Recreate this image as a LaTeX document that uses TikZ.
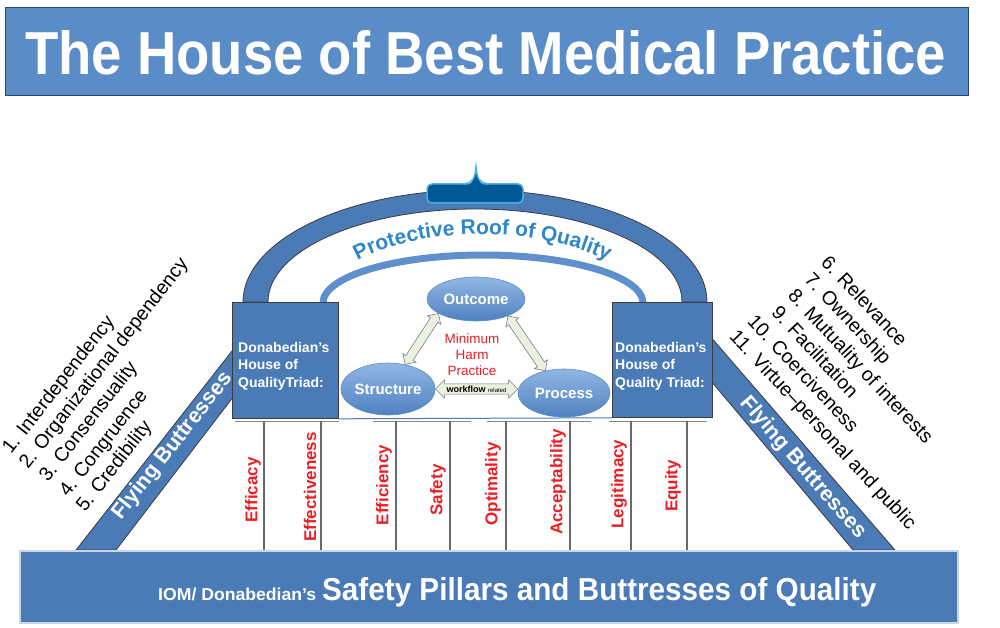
\documentclass[tikz,border=0pt]{standalone}
\usepackage{fontspec}
\setmainfont{Liberation Sans}
\usetikzlibrary{shapes.geometric,shapes.arrows,decorations.text,calc}
\definecolor{titleblue}{RGB}{90,140,200}
\definecolor{titleedge}{RGB}{40,70,110}
\definecolor{mainblue}{RGB}{74,123,183}
\definecolor{edgegray}{RGB}{60,60,60}
\definecolor{capblue}{RGB}{0,88,150}
\definecolor{caprim}{RGB}{75,175,230}
\definecolor{thinarch}{RGB}{95,143,205}
\definecolor{rooftext}{RGB}{45,135,200}
\definecolor{pillarred}{RGB}{235,30,35}
\definecolor{pillargray}{RGB}{105,105,105}
\definecolor{baseedge}{RGB}{200,213,230}
\definecolor{elltop}{RGB}{145,182,228}
\definecolor{ellbot}{RGB}{80,130,192}
\definecolor{elledge}{RGB}{95,140,195}
\definecolor{arrowfill}{RGB}{235,241,222}
\definecolor{arrowedge}{RGB}{115,125,135}
\begin{document}
\begin{tikzpicture}[x=1pt,y=-1pt,
  blockbox/.style={fill=mainblue,draw=edgegray,line width=0.8pt},
  blocktext/.style={anchor=base west,inner sep=0,text=white,align=left,font=\fontsize{14}{17.5}\selectfont\bfseries},
  triad/.style={ellipse,inner sep=0,top color=elltop,bottom color=ellbot,draw=elledge,line width=0.6pt,text=white,font=\fontsize{15}{15}\selectfont\bfseries},
  dblarrow/.style={double arrow,fill=arrowfill,draw=arrowedge,line width=0.6pt,inner xsep=0pt,double arrow head indent=0pt},
  pillar/.style={draw=pillargray,line width=1.5pt},
  capline/.style={draw=pillargray!80,line width=1pt},
  pillarlabel/.style={rotate=90,text=pillarred,inner sep=0,font=\fontsize{17}{17}\selectfont\bfseries},
  leftitem/.style={rotate=52,anchor=base west,inner sep=0,font=\fontsize{19.5}{19.5}\selectfont},
  rightitem/.style={rotate=-47,anchor=base west,inner sep=0,font=\fontsize{19.5}{19.5}\selectfont},
  flylabel/.style={text=white,inner sep=0,font=\fontsize{21.5}{21.5}\selectfont\bfseries},
]
\useasboundingbox (0,0) rectangle (1000,628);

% title
\node[draw=titleedge,fill=titleblue,line width=0.8pt,minimum width=963pt,minimum height=88pt,anchor=north west,inner sep=0] (titlebox) at (5,7) {};
\node[anchor=base west,inner sep=0,text=white] (title) at (25,75) {\resizebox{921pt}{44pt}{\bfseries The House of Best Medical Practice}};

% flying buttresses
\path[blockbox] (76,550) -- (250,328) -- (250,375) -- (116,550) -- cycle;
\path[blockbox] (895,550) -- (690,313) -- (690,356) -- (853,550) -- cycle;

% roof arch
\path[blockbox] (243,302) arc[start angle=180,end angle=360,x radius=232,y radius=112]
  -- (682,302) arc[start angle=360,end angle=180,x radius=207,y radius=93] -- cycle;
\draw[thinarch,line width=7pt] (323,303) arc[start angle=180,end angle=360,x radius=160,y radius=48];

% roof cap
\draw[fill=capblue,draw=caprim,line width=1.5pt,rounded corners=5pt] (427,184) rectangle (523,203);
\fill[capblue] (466,185.5) .. controls (473,184.5) and (475,178) .. (476,167) .. controls (477,178) and (479,184.5) .. (486,185.5) -- cycle;
\draw[caprim,line width=1.5pt] (463,184) .. controls (473,183.5) and (475,178) .. (476,167) .. controls (477,178) and (479,183.5) .. (489,184);

% roof text
\path[decorate,decoration={text along path,text align=center,
  text={|\fontsize{21}{21}\selectfont\bfseries\color{rooftext}|Protective Roof of Quality}}]
  (355,262) .. controls (420,225) and (540,225) .. (610,262);

% blocks
\node[blockbox,minimum width=106pt,minimum height=116pt,anchor=north west,inner sep=0] (leftblock) at (232,302) {};
\node[blockbox,minimum width=100pt,minimum height=115pt,anchor=north west,inner sep=0] (rightblock) at (612,302) {};
\node[blocktext] (lefttext) at (238,387) {Donabedian’s\\House of\\QualityTriad:};
\node[blocktext] (righttext) at (615,387) {Donabedian’s\\House of\\Quality Triad:};

% triad
\node[triad,minimum width=98pt,minimum height=44pt] (outcome) at (476,299) {Outcome};
\node[triad,minimum width=90pt,minimum height=52pt] (structure) at (388,389) {Structure};
\node[triad,minimum width=92pt,minimum height=48pt] (process) at (564,393) {Process};

\path let \p1=(structure.55), \p2=(outcome.201), \n1={veclen(\x2-\x1,\y2-\y1)} in
  (\p1) -- (\p2) node[dblarrow,midway,sloped,minimum height=\n1,inner ysep=4pt,double arrow head extend=3.5pt] (arrowso) {};
\path let \p1=(outcome.-28), \p2=(process.130), \n1={veclen(\x2-\x1,\y2-\y1)} in
  (\p1) -- (\p2) node[dblarrow,midway,sloped,minimum height=\n1,inner ysep=4pt,double arrow head extend=3.5pt] (arrowop) {};
\path let \p1=(structure.east), \p2=(structure.east -| process.west), \n1={veclen(\x2-\x1,\y2-\y1)} in
  (\p1) -- (\p2) node[dblarrow,midway,sloped,minimum height=\n1,inner ysep=1.5pt,double arrow head extend=4pt,font=\fontsize{9}{9}\selectfont\bfseries] (arrowsp) {workflow {\fontsize{6}{6}\selectfont\mdseries related}};

\node[text=pillarred,align=center,font=\fontsize{13.5}{16}\selectfont,inner sep=0,anchor=base] (harm) at (472,375) {Minimum\\Harm\\Practice};

% lintel line and pillar caps
\draw[mainblue,line width=1pt] (leftblock.south east) -- (rightblock.south west);
\draw[capline] (235,421) -- (339,421);
\draw[capline] (373,421) -- (471,421);
\draw[capline] (487,421) -- (591,421);
\draw[capline] (609,421) -- (707,421);
\foreach \px in {264,321,396,450,506,570,631,687} \draw[pillar] (\px,421) -- (\px,550);

\node[pillarlabel] (efficacy) at (253,490) {Efficacy};
\node[pillarlabel] (effectiveness) at (310,487) {Effectiveness};
\node[pillarlabel] (efficiency) at (384,485) {Efficiency};
\node[pillarlabel] (safety) at (438,490) {Safety};
\node[pillarlabel] (optimality) at (493,484) {Optimality};
\node[pillarlabel] (acceptability) at (558,482) {Acceptability};
\node[pillarlabel] (legitimacy) at (619,484) {Legitimacy};
\node[pillarlabel] (equity) at (673,486) {Equity};

% base
\node[fill=mainblue,draw=baseedge,line width=2pt,minimum width=938pt,minimum height=72pt,anchor=north west,inner sep=0] (base) at (19,550) {};
\node[anchor=base west,inner sep=0,text=white] (basesmall) at (158,600) {\resizebox{158pt}{12.5pt}{\bfseries IOM/ Donabedian’s}};
\node[anchor=base west,inner sep=0,text=white] (basebig) at (322,600) {\resizebox{554pt}{23pt}{\bfseries Safety Pillars and Buttresses of Quality}};

% buttress labels
\node[flylabel,rotate=52] (flyleft) at (173,446) {Flying Buttresses};
\node[flylabel,rotate=-49] (flyright) at (803,468) {Flying Buttresses};

% left list
\node[leftitem] (l1) at (11,455) {1. Interdependency};
\node[leftitem] (l2) at (28,470) {2. Organizational dependency};
\node[leftitem] (l3) at (48,483) {3. Consensuality};
\node[leftitem] (l4) at (68,498) {4. Congruence};
\node[leftitem] (l5) at (85,513) {5. Credibility};

% right list
\node[rightitem] (r6) at (820,263) {6. Relevance};
\node[rightitem] (r7) at (803.4,280) {7. Ownership};
\node[rightitem] (r8) at (786.9,296.8) {8. Mutuality of interests};
\node[rightitem] (r9) at (770.4,313.5) {9. Facilitation};
\node[rightitem] (r10) at (746.4,322.3) {10. Coerciveness};
\node[rightitem] (r11) at (728.5,337.6) {11. Virtue–personal and public};
\end{tikzpicture}
\end{document}
